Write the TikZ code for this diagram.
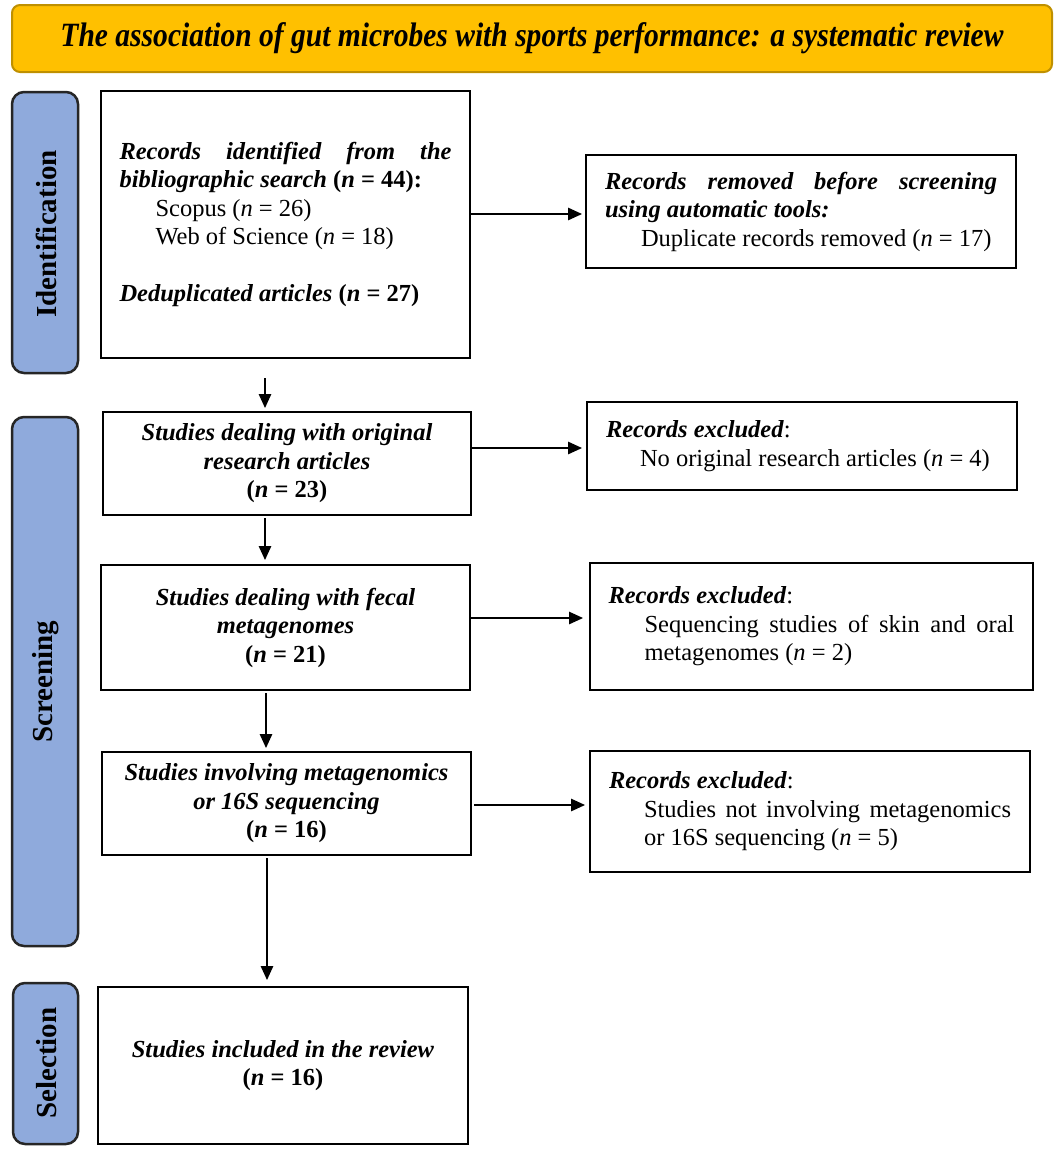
\documentclass[tikz,border=0pt]{standalone}
\usepackage{graphicx}
\usepackage{fontspec}
\setmainfont{Liberation Serif}
\usetikzlibrary{arrows.meta,calc}
\definecolor{gold}{HTML}{FFC000}
\definecolor{goldb}{HTML}{BF9000}
\definecolor{phase}{HTML}{8FAADC}
\newcommand{\BI}[1]{\textbf{\textit{#1}}}
\newcommand{\jl}[2]{\makebox[#1][s]{#2}}
\newenvironment{boxtext}[1]{\begin{minipage}{#1}\spaceskip=0pt\xspaceskip=0pt\parindent=0pt\relax}{\end{minipage}}
\begin{document}
\begin{tikzpicture}[x=1pt,y=-1pt,
 box/.style={draw,line width=2pt,inner sep=0pt,outer sep=0pt},
 phasebox/.style={draw=black!85,fill=phase,line width=2.5pt,rounded corners=12pt,inner sep=0pt},
 phasetxt/.style={rotate=90,font=\fontsize{29}{34}\selectfont\bfseries},
 arr/.style={line width=1.3pt,-{Triangle[length=14pt,width=12.5pt]}},
 txt/.style={font=\fontsize{24.5}{28.5}\selectfont}
]
\useasboundingbox (0,0) rectangle (1060,1151);
\fill[white] (0,0) rectangle (1060,1151);

% title
\node[draw=goldb, fill=gold, line width=2pt, rounded corners=8pt, minimum width=1040, minimum height=67, inner sep=0pt] (title) at (532,38.5)
 {\resizebox{943pt}{\height}{\fontsize{34}{40}\selectfont\bfseries\itshape The association of gut microbes with sports performance: a systematic review}};

% phase labels
\node[phasebox, minimum width=66, minimum height=281] (pid) at (45,232.5) {};
\node[phasetxt] (lid) at (46,234) {Identification};
\node[phasebox, minimum width=66, minimum height=529] (psc) at (45,681.5) {};
\node[phasetxt] (lsc) at (46,682) {Screening};
\node[phasebox, minimum width=65, minimum height=161] (psel) at (45.5,1063.5) {};
\node[phasetxt] (lsel) at (46.5,1063) {Selection};

% main boxes
\node[box, txt, minimum width=369, minimum height=267] (b1) at (285.5,224.5) {\begin{boxtext}{332pt}%
\jl{332pt}{\BI{Records identified from the}}\\
\BI{bibliographic search} \textbf{(\textit{n} = 44):}\\
\hspace*{36pt}Scopus (\textit{n} = 26)\\
\hspace*{36pt}Web of Science (\textit{n} = 18)\\[28.5pt]
\BI{Deduplicated articles} \textbf{(\textit{n} = 27)}\end{boxtext}};

\node[box, txt, minimum width=430, minimum height=113] (r1) at (801,211.5) {\begin{boxtext}{392pt}%
\jl{392pt}{\BI{Records removed before screening}}\\
\BI{using automatic tools:}\\
\hspace*{36pt}Duplicate records removed (\textit{n} = 17)\end{boxtext}};

\node[box, txt, minimum width=368, minimum height=103, align=center] (b2) at (287,463.5) {%
\BI{Studies dealing with original}\\
\BI{research articles}\\
\textbf{(\textit{n} = 23)}};

\node[box, txt, minimum width=430, minimum height=88] (r2) at (802,446) {\begin{boxtext}{392pt}%
\BI{Records excluded}:\\
\hspace*{34pt}No original research articles (\textit{n} = 4)\end{boxtext}};

\node[box, txt, minimum width=369, minimum height=125, align=center] (b3) at (285.5,627.5) {%
\BI{Studies dealing with fecal}\\
\BI{metagenomes}\\
\textbf{(\textit{n} = 21)}};

\node[box, txt, minimum width=443, minimum height=127] (r3) at (811.5,626.5) {\begin{boxtext}{406pt}%
\BI{Records excluded}:\\
\hspace*{36pt}\jl{370pt}{Sequencing studies of skin and oral}\\
\hspace*{36pt}metagenomes (\textit{n} = 2)\end{boxtext}};

\node[box, txt, minimum width=369, minimum height=103, align=center] (b4) at (286.5,803.5) {%
\BI{Studies involving metagenomics}\\
\BI{or 16S sequencing}\\
\textbf{(\textit{n} = 16)}};

\node[box, txt, minimum width=440, minimum height=121] (r4) at (810,811.5) {\begin{boxtext}{402pt}%
\BI{Records excluded}:\\
\hspace*{35pt}\jl{367pt}{Studies not involving metagenomics}\\
\hspace*{35pt}or 16S sequencing (\textit{n} = 5)\end{boxtext}};

\node[box, txt, minimum width=370, minimum height=157, align=center] (b5) at (283,1065.5) {%
\BI{Studies included in the review}\\
\textbf{(\textit{n} = 16)}};

% vertical arrows
\draw[arr] ($(b1.south)+(-20.5,20)$) -- ($(b2.north)+(-22,-4)$);
\draw[arr] ($(b2.south)+(-22,3)$) -- ($(b3.north)+(-20.5,-5)$);
\draw[arr] ($(b3.south)+(-19.5,3)$) -- ($(b4.north)+(-20.5,-4)$);
\draw[arr] ($(b4.south)+(-19.5,3)$) -- ($(b5.north)+(-16,-7)$);

% horizontal arrows
\draw[arr] ($(b1.east |- r1.west)+(0,2.5)$) -- ($(r1.west)+(-4,2.5)$);
\draw[arr] ($(b2.east |- r2.west)+(0,2)$) -- ($(r2.west)+(-5,2)$);
\draw[arr] ($(b3.east)+(0,-9.5)$) -- ($(b3.east -| r3.west)+(-7,-9.5)$);
\draw[arr] ($(b4.east)+(3,1.5)$) -- ($(b4.east -| r4.west)+(-5,1.5)$);
\end{tikzpicture}
\end{document}
